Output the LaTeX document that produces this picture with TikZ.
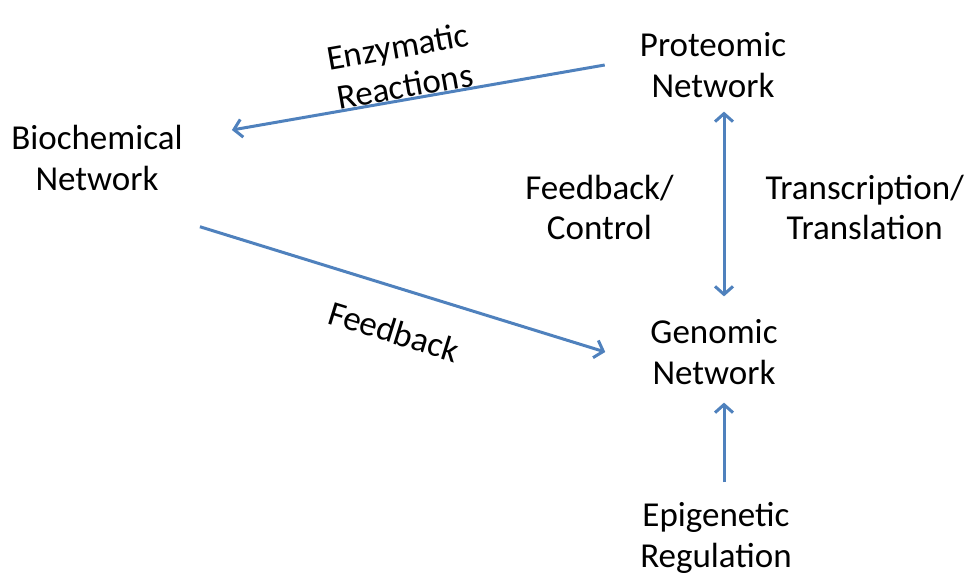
\documentclass[tikz,border=0pt]{standalone}
\usepackage{fontspec}
\setmainfont{Carlito}
\usetikzlibrary{arrows.meta}
\definecolor{flowblue}{RGB}{79,129,189}
\tikzstyle{arrow} = [->, >={Straight Barb[length=8pt,width=18pt]}, line width=3pt, draw=flowblue]
\tikzstyle{mText}=[align=center, inner sep=0pt, font=\fontsize{35}{40.5}\selectfont]

\begin{document}
\begin{tikzpicture}[x=1pt, y=-1pt, every node/.style={mText}]
        \useasboundingbox (0,0) rectangle (966,573);

        \node (bio) at (97,158) {Biochemical\\Network};
        \node (prot) at (713,65) {Proteomic\\Network};
        \node (gen) at (714,352) {Genomic\\Network};
        \node (epi) at (716,538) {Epigenetic\\Regulation};

        \draw[arrow] ([xshift=-35pt]prot.west) -- node[sloped, above, inner sep=0pt, pos=0.53] {Enzymatic\\Reactions} ([xshift=49pt,yshift=28pt]bio.east);
        \draw[arrow] ([xshift=17pt,yshift=-36pt]bio.south east) -- node[sloped, below, inner sep=29pt, pos=0.51] {Feedback} ([xshift=-45pt]gen.west);

        \draw[arrow, <->] ([xshift=11pt,yshift=-14pt]prot.south) -- node[left=49pt, pos=0.52] {Feedback/\\Control} node[right=40pt, pos=0.52] {Transcription/\\Translation} ([xshift=10pt,yshift=23pt]gen.north);
        \draw[arrow] ([xshift=8pt,yshift=20pt]epi.north) -- ([xshift=10pt,yshift=-18pt]gen.south);
\end{tikzpicture}
\end{document}
